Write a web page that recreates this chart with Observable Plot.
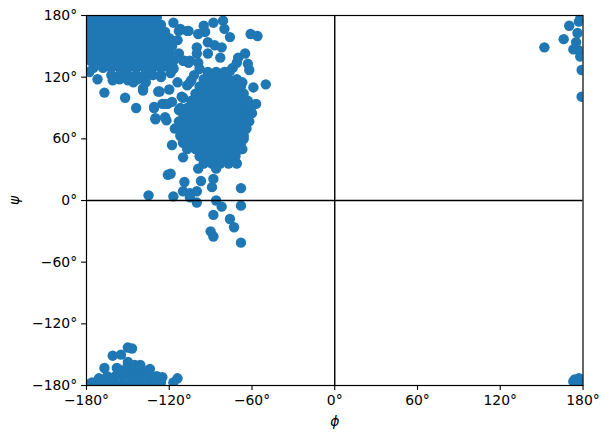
<!DOCTYPE html>
<html>
<head>
<meta charset="utf-8">
<script src="https://cdn.jsdelivr.net/npm/d3@7"></script>
<script src="https://cdn.jsdelivr.net/npm/@observablehq/plot@0.6"></script>
<style>
html,body{margin:0;padding:0;background:#fff}
svg{display:block}
svg [aria-label$="axis label"] text, svg [aria-label$="axis label"]{font-style:italic}
</style>
</head>
<body>
<div id="chart"></div>
<script>
const angleTicks = [-180,-120,-60,0,60,120,180];
const xLabel = "\u03D5";
const yLabel = "ψ";
const betaCore = [
[-177,178],[-171,178],[-165,178],[-159,178],[-153,178],[-147,178],[-141,178],[-135,178],[-129,178],
[-180,171],[-174,171],[-168,171],[-162,171],[-156,171],[-150,171],[-144,171],[-138,171],[-132,171],[-126,171],
[-177,164],[-171,164],[-165,164],[-159,164],[-153,164],[-147,164],[-141,164],[-135,164],[-129,164],[-123,164],
[-179,157],[-174,157],[-168,157],[-162,157],[-156,157],[-150,157],[-144,157],[-138,157],[-132,157],[-126,157],[-120,158],
[-177,150],[-171,150],[-165,150],[-159,150],[-153,150],[-147,150],[-141,150],[-135,150],[-129,150],[-123,150],[-118,150],
[-179,143],[-174,143],[-168,143],[-162,143],[-156,143],[-150,143],[-144,143],[-138,143],[-132,143],[-126,143],[-120,143],
[-177,136],[-171,136],[-165,136],[-159,136],[-153,136],[-147,136],[-141,136],[-135,136],[-129,136],[-123,136],[-117,136],
[-175,129],[-168,129],[-162,129],[-156,129],[-150,129],[-144,129],[-138,129],[-132,129],[-126,129],[-120,129],
[-162,122],[-156,122],[-150,122],[-144,122],[-138,122],[-132,122],[-126,122],
[-156,118],[-150,117],[-143,118],[-137,115]
];
const betaEdge = [
[-178,125],[-172,118],[-167,105],[-161,117],[-155,124],[-152,100],[-144,90],[-146,115],[-139,109],[-131,90],
[-128,106],[-120,108],[-114,115],[-110,100],[-121,94],[-125,94],[-107,112],[-113,88],[-130,80],[-123,81],
[-134,123],[-126,120],[-117,128],[-109,136],[-105,136],[-113,143],[-114,156],[-113,165],[-107,165],[-117,173],[-112,167]
];
const upperScatter = [
[-88,173],[-81,175],[-80,167],[-76,159],[-61,162],[-56,160],[-95,170],[-94,164],[-99,162],[-106,165],
[-100,149],[-92,154],[-87,151],[-82,149],[-92,143],[-100,143],[-83,139],[-65,143],[-70,139],[-63,133],
[-62,127],[-71,134],[-74,129],[-106,134],[-110,136],[-99,134],[-98,128],[-102,122],[-117,129],[-119,124],
[-104,117],[-59,110],[-50,113],[-67,115],[-95,114]
];
const ppiiCore = [
[-92,125],[-86,125],[-80,125],[-76,126],
[-95,118],[-89,118],[-83,118],[-77,118],[-71,118],
[-98,111],[-92,111],[-86,111],[-80,111],[-74,111],[-68,111],
[-101,104],[-95,104],[-89,104],[-83,104],[-77,104],[-71,104],[-66,104],
[-104,97],[-98,97],[-92,97],[-86,97],[-80,97],[-74,97],[-68,97],[-63,97],
[-112,90],[-107,90],[-101,90],[-95,90],[-89,90],[-83,90],[-77,90],[-71,90],[-65,90],[-61,90],
[-110,84],[-104,84],[-98,84],[-92,84],[-86,84],[-80,84],[-74,84],[-68,84],[-62,84],
[-113,77],[-107,77],[-101,77],[-95,77],[-89,77],[-83,77],[-77,77],[-71,77],[-65,77],[-62,77],
[-110,70],[-104,70],[-98,70],[-92,70],[-86,70],[-80,70],[-74,70],[-68,70],[-64,70],
[-112,63],[-107,63],[-101,63],[-95,63],[-89,63],[-83,63],[-77,63],[-71,63],[-66,63],
[-110,56],[-104,56],[-98,56],[-92,56],[-86,56],[-80,56],[-74,56],[-68,56],
[-107,50],[-101,50],[-95,50],[-89,50],[-83,50],[-77,50],[-71,50],[-67,50],
[-98,43],[-92,43],[-86,43],[-80,43],[-75,43],[-72,43],
[-95,36],[-89,36],[-83,36],[-77,36]
];
const ppiiEdge = [
[-57,94],[-60,85],[-66,60],[-70,49],[-71,36],[-86,31],[-99,31],[-110,42],[-118,54],[-110,58],[-116,70],
[-122,78],[-130,79],[-131,91],[-123,94],[-118,96],[-111,101],[-105,115],[-127,106],[-139,107],
[-121,25],[-119,26],[-109,18],[-97,19],[-88,21],[-89,13],[-68,12],[-135,5],[-117,4],[-110,9],[-105,7],
[-100,9],[-100,-2],[-105,3],[-86,0],[-82,-6],[-68,-5],[-88,-14],[-76,-18],[-73,-26],[-90,-30],[-88,-35],[-68,-41]
];
const lowerLeft = [
[-147,-144],[-150,-143],[-155,-150],[-161,-151],[-150,-157],[-167,-163],[-158,-163],[-134,-164],[-141,-167],
[-125,-172],[-126,-177],[-114,-173],[-117,-177],[-132,-175],[-171,-173],[-176,-177],[-179,-179],
[-172,-178],[-166,-178],[-160,-178],[-154,-178],[-148,-178],[-142,-178],[-136,-178],[-130,-178],
[-165,-171],[-159,-171],[-153,-171],[-147,-171],[-141,-171],[-135,-171],[-129,-171],
[-155,-165],[-150,-165],[-145,-165],[-140,-165],[-135,-165],
[-150,-160],[-145,-160],[-141,-160]
];
const upperRight = [
[152,149],[166,157],[170,170],[177,174],[178,177],[176,163],[175,154],[173,147],[177,146],[178,140],[179,127],[179,101]
];
const lowerRight = [
[174,-174],[177,-173],[179,-174],[173,-176],[177,-177],[179,-178]
];
const points = [...betaCore,...betaEdge,...upperScatter,...ppiiCore,...ppiiEdge,...lowerLeft,...upperRight,...lowerRight];
const fmt = d => (d < 0 ? "\u2212" + (-d) : d) + "°";

const chart = Plot.plot({
  width: 609,
  height: 442,
  marginLeft: 86,
  marginRight: 26.5,
  marginTop: 15,
  marginBottom: 57,
  style: {fontFamily: "DejaVu Sans", background: "#fff", color: "#000", overflow: "visible"},
  x: {domain: [-180, 180]},
  y: {domain: [-180, 180]},
  marks: [
    Plot.dot(points, {x: d => d[0], y: d => d[1], r: 5.2, fill: "#1f77b4", stroke: "none", clip: "frame"}),
    Plot.ruleX([0], {stroke: "#000", strokeWidth: 1.4}),
    Plot.ruleY([0], {stroke: "#000", strokeWidth: 1.4}),
    Plot.frame({stroke: "#000", strokeWidth: 1.2}),
    Plot.axisX({ticks: angleTicks, tickFormat: fmt, tickSize: 4.9, tickPadding: 4.5, fontSize: 13.9, stroke: "#000", strokeWidth: 1.1, strokeOpacity: 1, fill: "#000", label: xLabel, labelAnchor: "center", labelArrow: "none", labelOffset: 40}),
    Plot.axisY({ticks: angleTicks, tickFormat: fmt, tickSize: 4.9, tickPadding: 4.5, fontSize: 13.9, stroke: "#000", strokeWidth: 1.1, strokeOpacity: 1, fill: "#000", label: yLabel, labelAnchor: "center", labelArrow: "none", labelOffset: 77})
  ]
});
document.getElementById("chart").appendChild(chart);
</script>
</body>
</html>
